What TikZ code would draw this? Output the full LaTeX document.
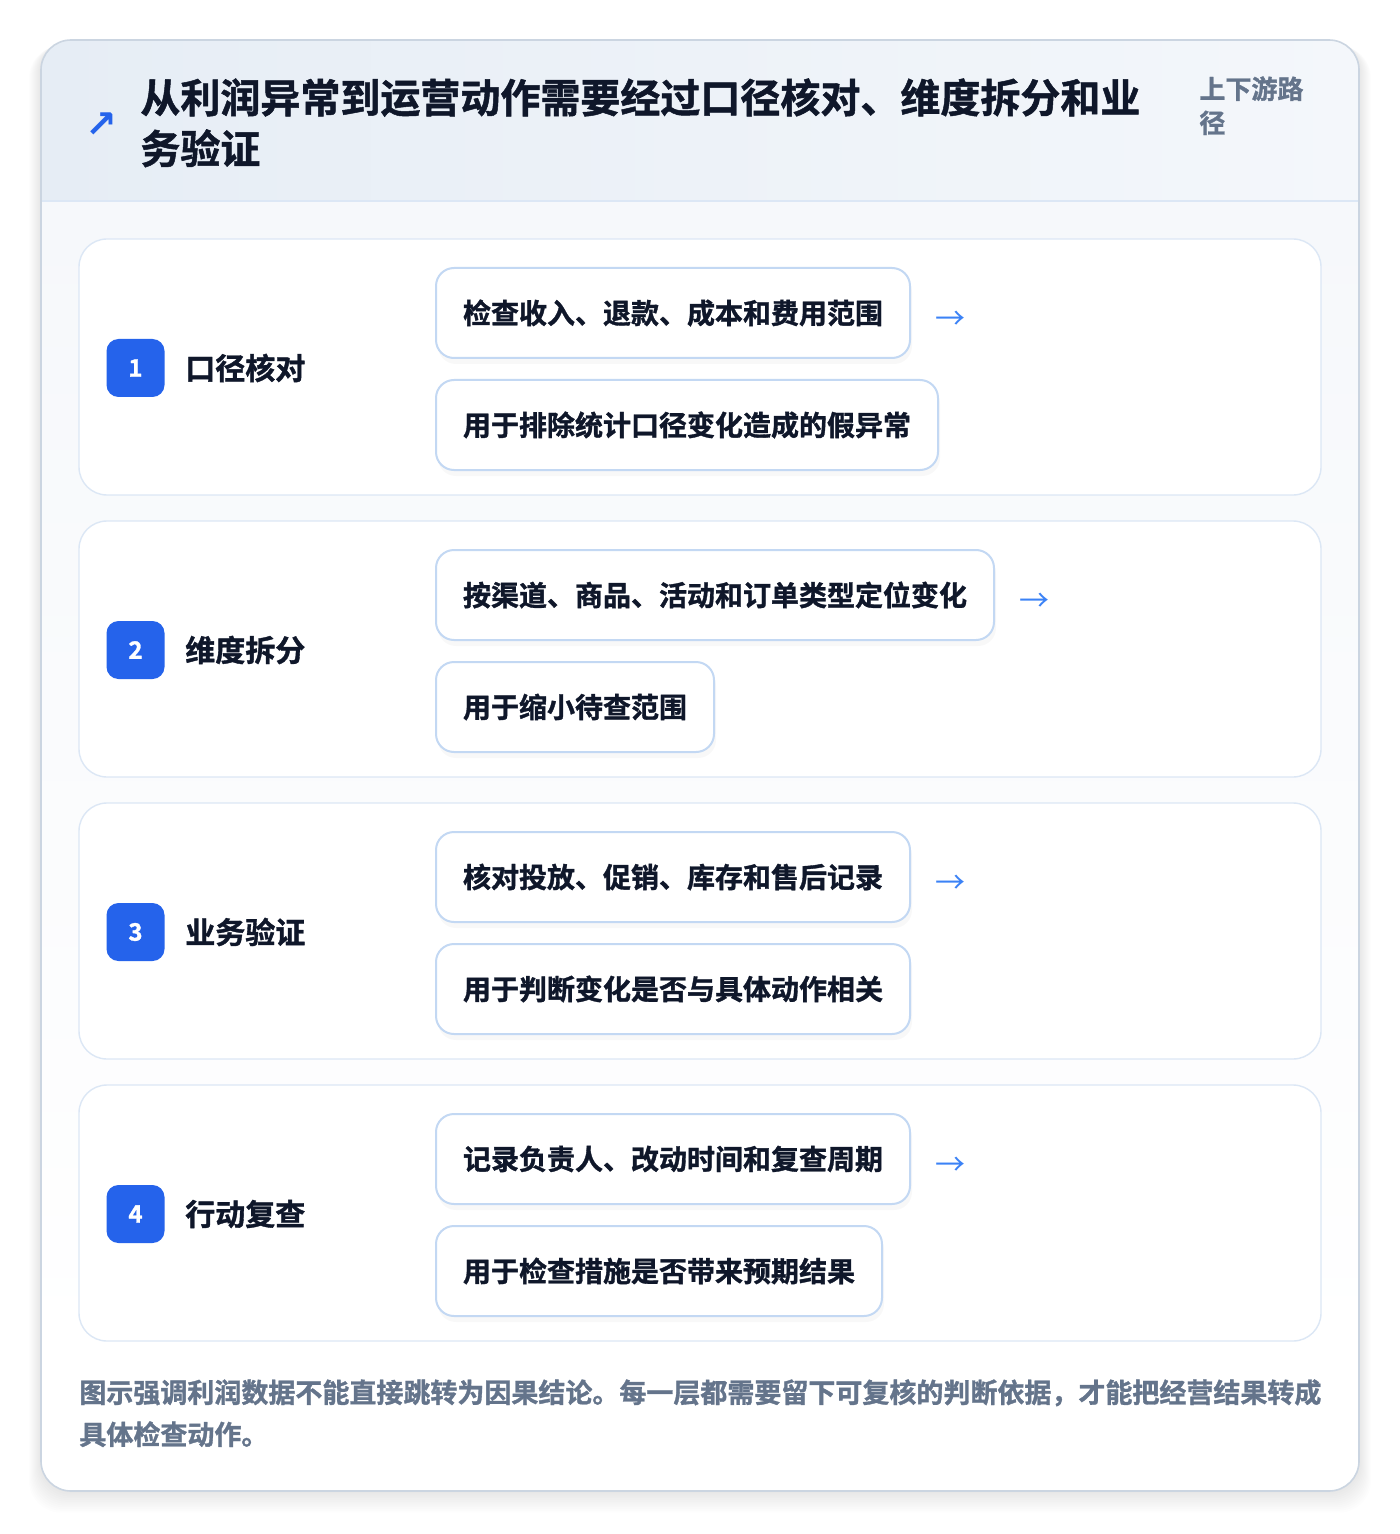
\documentclass[tikz,border=0pt]{standalone}
\usepackage{fontspec}
\setmainfont{Noto Sans CJK SC}[BoldFont={Noto Sans CJK SC Bold}, BoldFeatures={FakeBold=1.2}]
\newfontfamily\symfont{DejaVu Sans}
\usetikzlibrary{positioning,shadows}

\definecolor{inkdark}{HTML}{0F172A}
\definecolor{inkgray}{HTML}{64748B}
\definecolor{accent}{HTML}{2563EB}
\definecolor{arrowblue}{HTML}{3B82F6}
\definecolor{outerline}{HTML}{CBD5E1}
\definecolor{cardline}{HTML}{DCE7F5}
\definecolor{itemline}{HTML}{C3D8F3}
\definecolor{headleft}{HTML}{E6EDF5}
\definecolor{headright}{HTML}{F4F7FB}
\definecolor{bodytop}{HTML}{F6F8FB}

\tikzset{
  outercard/.style={draw=outerline, line width=0.8pt, rounded corners=15pt},
  stepcard/.style={draw=cardline, line width=0.7pt, fill=white, rounded corners=14pt},
  badge/.style={fill=accent, rounded corners=6pt, minimum size=29pt, inner sep=0pt,
    text=white, font=\bfseries\fontsize{12}{12}\selectfont},
  steplabel/.style={inner sep=0pt, text=inkdark, font=\bfseries\fontsize{15}{15}\selectfont},
  itembox/.style={draw=itemline, line width=1pt, fill=white, rounded corners=9pt,
    minimum height=45pt, inner xsep=13.5pt, inner ysep=0pt, text=inkdark,
    font=\bfseries\fontsize{14}{14}\selectfont,
    drop shadow={opacity=0.05, shadow xshift=1pt, shadow yshift=-3pt}},
  arrowmark/.style={inner sep=0pt, text=arrowblue, font=\fontsize{15}{15}\selectfont},
}

\begin{document}
\begin{tikzpicture}[x=0.5pt, y=-0.5pt]
  \useasboundingbox (0,0) rectangle (1400,1534);
  \fill[white] (0,0) rectangle (1400,1534);

  % soft shadow of the outer card
  \foreach \s in {1,...,12}
  \fill[black, opacity=0.008, rounded corners=16pt] (41-\s,40+0.5*\s) rectangle (1359+\s,1491+1.8*\s);

  % outer card with header
  \begin{scope}
    \clip[rounded corners=15pt] (41,40) rectangle (1359,1491);
    \fill[white] (41,40) rectangle (1359,1491);
    \shade[top color=bodytop, bottom color=white] (41,201) rectangle (1359,1360);
    \shade[left color=headleft, right color=headright] (41,40) rectangle (1359,201);
  \end{scope}
  \draw[cardline, line width=1pt] (41,201) -- (1359,201);
  \draw[outercard] (41,40) rectangle (1359,1491);

  \node[text=accent, font=\symfont\bfseries\fontsize{19}{19}\selectfont, inner sep=0pt] (titlemark) at (101,125) {↗};
  \node[anchor=north west, align=left, inner sep=0pt, text=inkdark,
    font=\bfseries\fontsize{20}{25.5}\selectfont] (title) at (140,78)
    {从利润异常到运营动作需要经过口径核对、维度拆分和业\\务验证};
  \node[anchor=north west, align=left, inner sep=0pt, text=inkgray,
    font=\bfseries\fontsize{13}{17}\selectfont] (meta) at (1199,76) {上下游路\\径};

  % the four steps
  \foreach \n/\step/\first/\second [evaluate=\n as \top using {239+282*(\n-1)}] in
    {1/{口径核对}/{检查收入、退款、成本和费用范围}/{用于排除统计口径变化造成的假异常},
     2/{维度拆分}/{按渠道、商品、活动和订单类型定位变化}/{用于缩小待查范围},
     3/{业务验证}/{核对投放、促销、库存和售后记录}/{用于判断变化是否与具体动作相关},
     4/{行动复查}/{记录负责人、改动时间和复查周期}/{用于检查措施是否带来预期结果}}
  {
    \draw[stepcard] (79,\top) rectangle ++(1242,256);
    \node[badge] (badge\n) at (135.5,\top+129) {\n};
    \node[steplabel, right=10pt of badge\n] (label\n) {\step};
    \node[itembox, anchor=north west] (first\n) at (435,\top+28) {\first};
    \node[itembox, below=10pt of first\n.south west, anchor=north west] (second\n) {\second};
    \node[arrowmark, right=12pt of first\n, yshift=-3.5pt] (arrow\n) {→};
  }

  \node[anchor=north west, align=left, inner sep=0pt, text=inkgray,
    font=\bfseries\fontsize{13.5}{21}\selectfont] (note) at (79,1379)
    {图示强调利润数据不能直接跳转为因果结论。每一层都需要留下可复核的判断依据，才能把经营结果转成\\具体检查动作。};
\end{tikzpicture}
\end{document}
